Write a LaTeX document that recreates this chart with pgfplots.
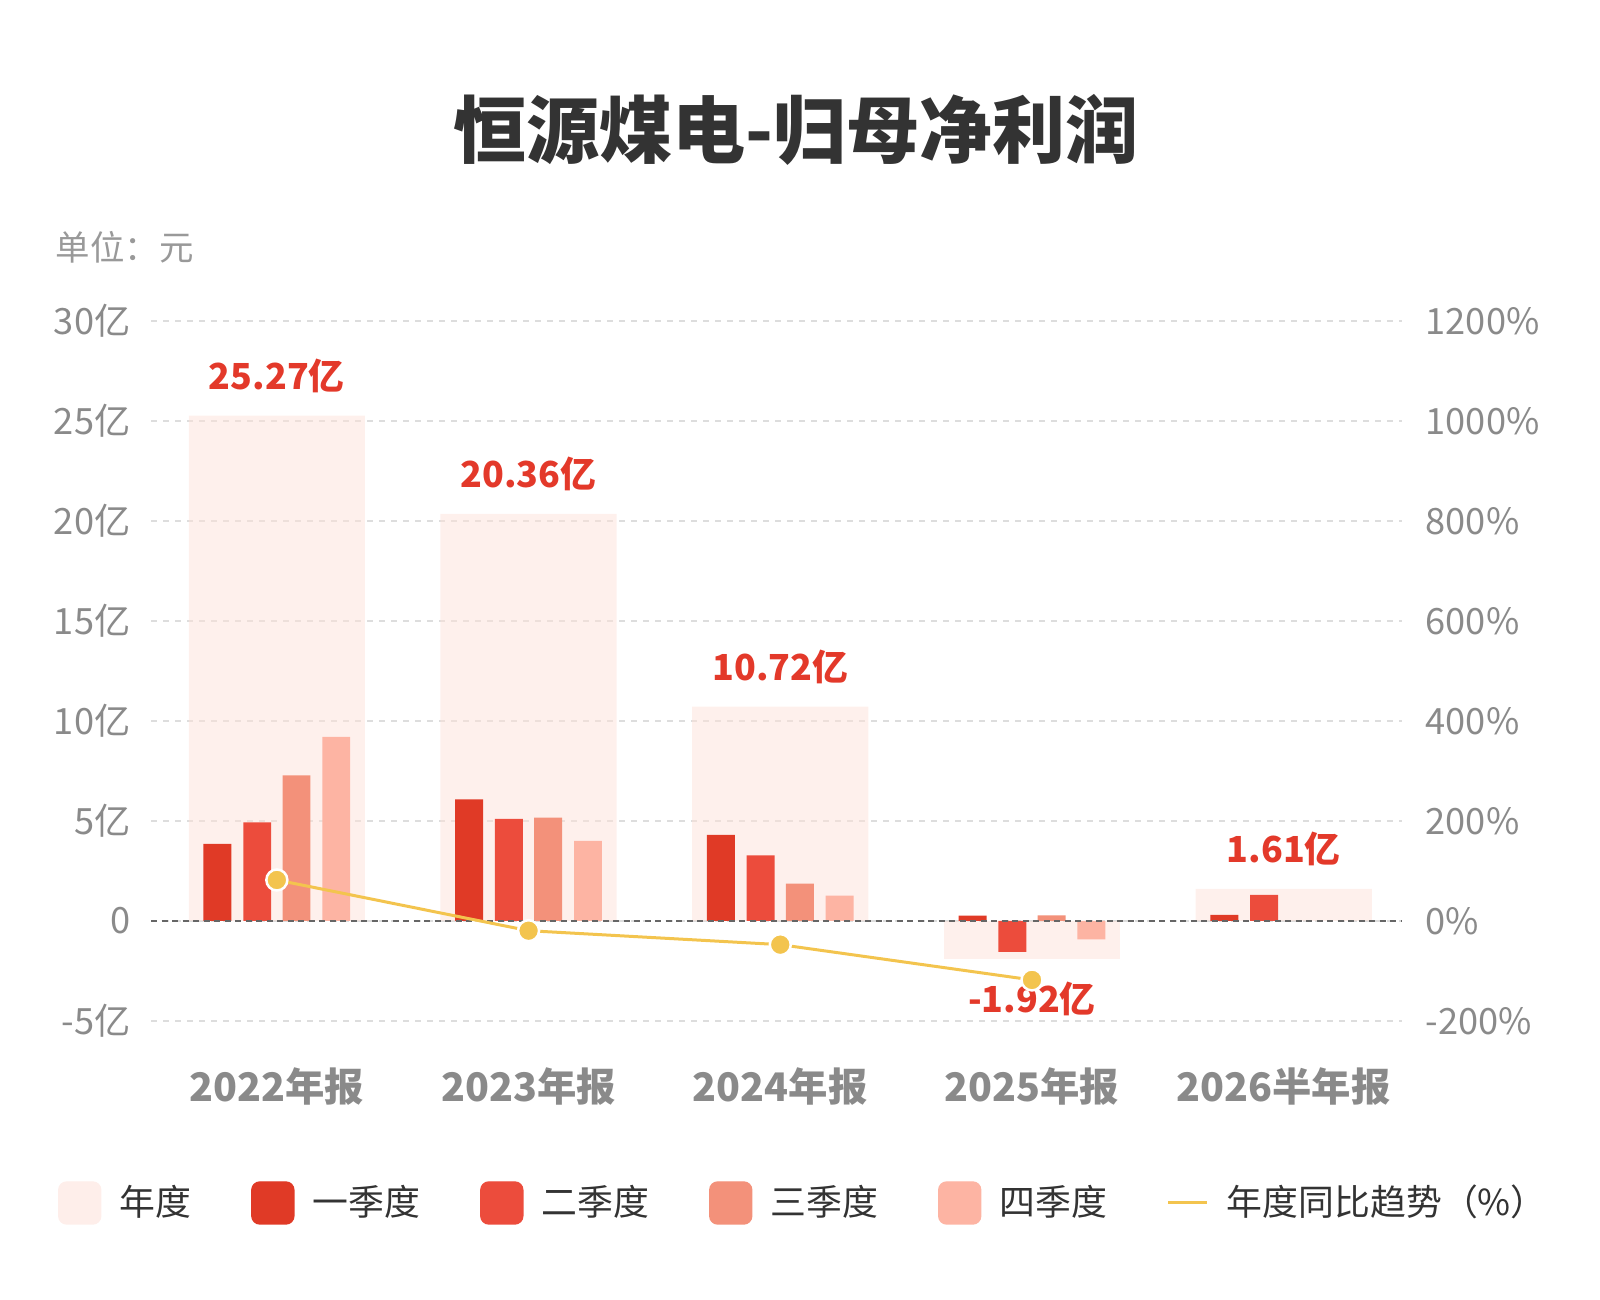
\documentclass[border=0pt]{standalone}
\usepackage{fontspec}
\setmainfont{Noto Sans CJK SC}
\usepackage{pgfplots}
\pgfplotsset{compat=1.18}

\definecolor{annualc}{HTML}{FDE1D9}
\definecolor{qa}{HTML}{E03A26}
\definecolor{qb}{HTML}{EC4C3C}
\definecolor{qc}{HTML}{F3917A}
\definecolor{qd}{HTML}{FDB4A3}
\definecolor{yoyc}{HTML}{F3C44E}
\definecolor{labelc}{HTML}{E3392A}
\definecolor{tickc}{HTML}{8A8A8A}
\definecolor{unitc}{HTML}{999999}
\definecolor{titlec}{HTML}{333333}
\definecolor{gridc}{HTML}{DDDDDD}
\definecolor{zeroc}{HTML}{666666}

\pgfplotsset{
  frame/.style={
    at={(1.51cm,2.79cm)}, anchor=south west,
    scale only axis, width=12.51cm, height=7cm,
    xmin=-0.5, xmax=4.47,
    axis line style={draw=none}, tick style={draw=none},
  },
  swatch/.style={legend image code/.code={
    \fill[#1, rounded corners=0.8mm] (0mm,-2.1mm) rectangle (4.2mm,2.1mm);}},
  annual/.style={ybar, bar width=0.7, bar shift=0, draw=none,
    fill=annualc, fill opacity=0.5,
    nodes near coords, point meta=explicit symbolic,
    every node near coord/.append style={font=\bfseries\fontsize{10.2}{12}\selectfont,
      text=labelc, text opacity=1, inner ysep=2.2mm, anchor=#1}},
}

\begin{document}
\begin{tikzpicture}
\path[use as bounding box] (0,0) rectangle (16,13);

\node[font=\bfseries\fontsize{20.8}{24}\selectfont, text=titlec] at (7.96,11.70) {恒源煤电-归母净利润};
\node[anchor=west, inner sep=0pt, font=\fontsize{9.8}{12}\selectfont, text=unitc] at (0.55,10.53) {单位：元};

% bars: annual total behind the four quarters
\begin{axis}[
  frame,
  ymin=-5, ymax=30,
  xtick={0,1,2,3,4},
  xticklabels={2022年报,2023年报,2024年报,2025年报,2026半年报},
  xticklabel style={font=\bfseries\fontsize{11.2}{13}\selectfont, text=tickc,
    anchor=center, inner sep=0pt, yshift=-6.6mm},
  ytick={-5,0,5,10,15,20,25,30},
  yticklabels={-5亿,0,5亿,10亿,15亿,20亿,25亿,30亿},
  yticklabel style={font=\fontsize{10.3}{12}\selectfont, text=tickc,
    anchor=east, inner sep=0pt, xshift=-2mm},
  ymajorgrids,
  grid style={gridc, line width=0.15mm, dash pattern=on 0.6mm off 0.6mm},
]
\addplot[annual=south]
  coordinates {(0,25.27)[25.27亿] (1,20.36)[20.36亿] (2,10.72)[10.72亿] (4,1.61)[1.61亿]};
\addplot[annual=north]
  coordinates {(3,-1.92)[-1.92亿]};

\addplot[ybar, bar width=0.111, bar shift=-0.236, draw=none, fill=qa]
  coordinates {(0,3.85) (1,6.08) (2,4.30) (3,0.27) (4,0.30)};
\addplot[ybar, bar width=0.111, bar shift=-0.078, draw=none, fill=qb]
  coordinates {(0,4.93) (1,5.11) (2,3.28) (3,-1.55) (4,1.31)};
\addplot[ybar, bar width=0.111, bar shift=0.078, draw=none, fill=qc]
  coordinates {(0,7.28) (1,5.17) (2,1.87) (3,0.28)};
\addplot[ybar, bar width=0.111, bar shift=0.236, draw=none, fill=qd]
  coordinates {(0,9.21) (1,4.00) (2,1.27) (3,-0.92)};

\draw[zeroc, line width=0.2mm, dash pattern=on 0.6mm off 0.45mm]
  (axis cs:-0.5,0) -- (axis cs:4.47,0);
\end{axis}

% year-on-year line on the right axis, plus the legend
\begin{axis}[
  frame,
  ymin=-200, ymax=1200,
  xtick=\empty,
  ytick={-200,0,200,400,600,800,1000,1200},
  yticklabels={-200\%,0\%,200\%,400\%,600\%,800\%,1000\%,1200\%},
  yticklabel pos=right,
  yticklabel style={font=\fontsize{10.3}{12}\selectfont, text=tickc,
    anchor=west, inner sep=0pt, xshift=2.3mm},
  legend columns=6,
  legend style={at={(-0.0743,-0.26)}, anchor=west, draw=none, fill=none,
    inner sep=0pt, outer sep=0pt,
    font=\fontsize{10.2}{12}\selectfont, text=titlec,
    nodes={inner sep=0pt},
    /tikz/every odd column/.append style={column sep=1.8mm},
    /tikz/every even column/.append style={column sep=6mm}},
]
\addlegendimage{swatch=annualc!55}
\addlegendentry{年度}
\addlegendimage{swatch=qa}
\addlegendentry{一季度}
\addlegendimage{swatch=qb}
\addlegendentry{二季度}
\addlegendimage{swatch=qc}
\addlegendentry{三季度}
\addlegendimage{swatch=qd}
\addlegendentry{四季度}
\addplot[yoyc, line width=0.3mm, mark=*, mark size=1.05mm,
  mark options={fill=yoyc, draw=white, line width=0.25mm},
  legend image code/.code={\draw[yoyc, line width=0.3mm] (0mm,0mm) -- (3.9mm,0mm);}]
  coordinates {(0,82) (1,-19.4) (2,-47.3) (3,-117.9)};
\addlegendentry{年度同比趋势（\%）}
\end{axis}
\end{tikzpicture}
\end{document}
